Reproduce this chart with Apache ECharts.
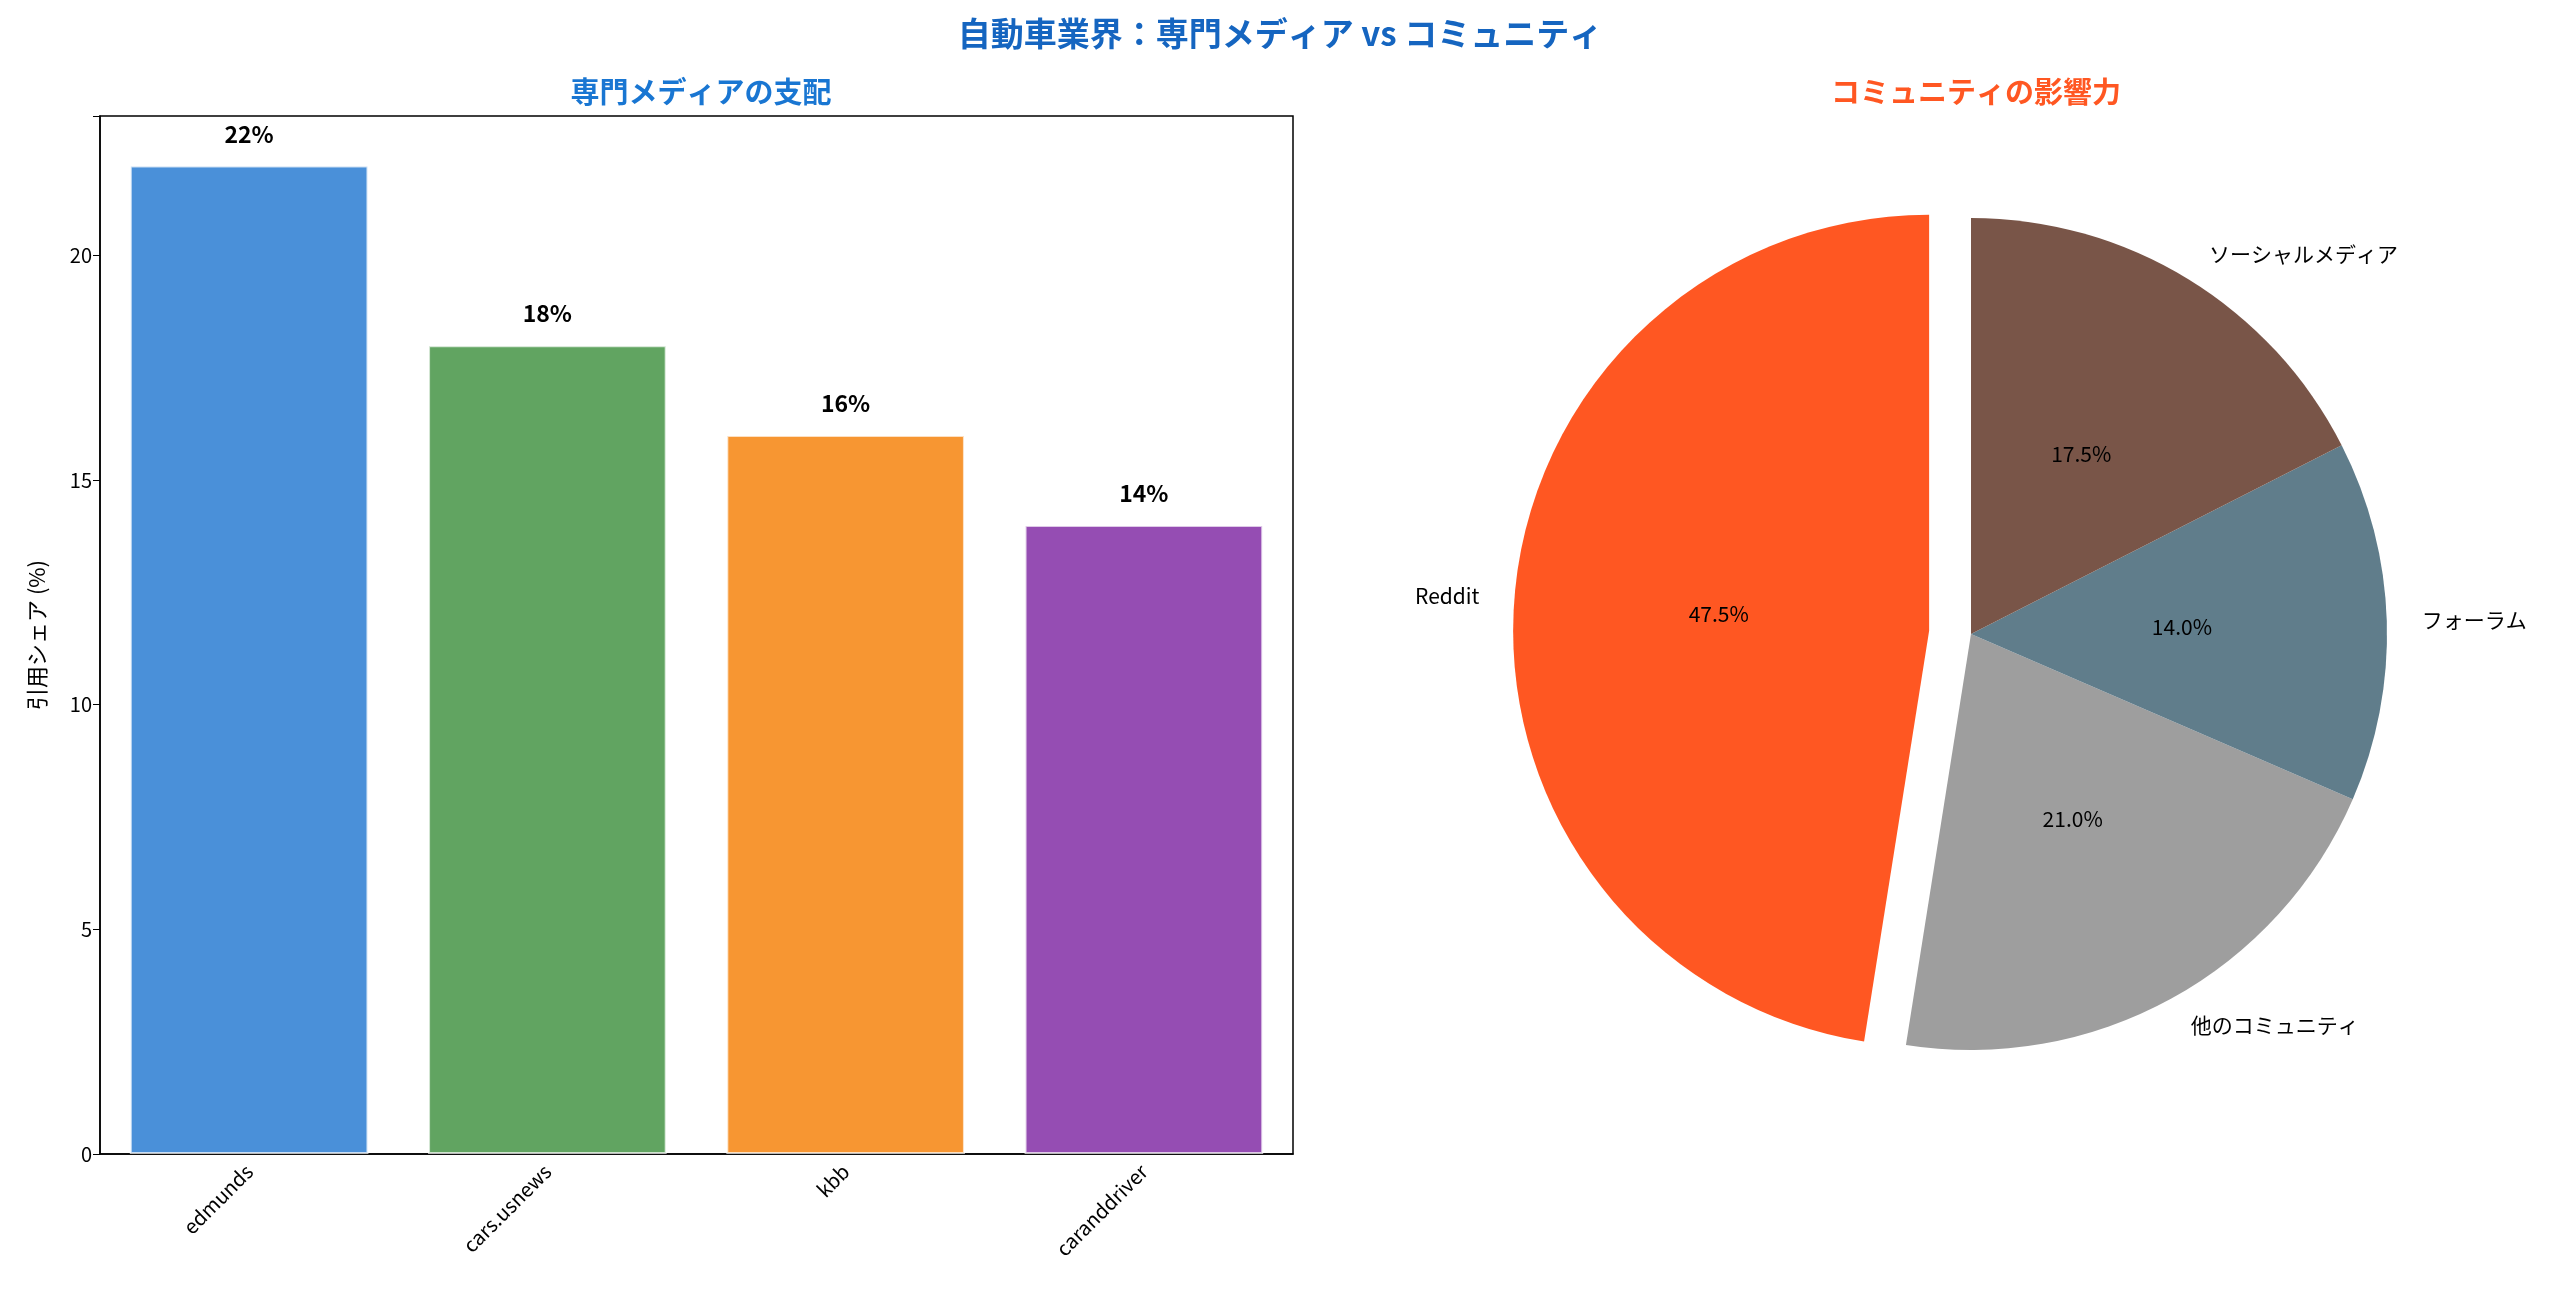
<!DOCTYPE html>
<html>
<head>
<meta charset="utf-8">
<script src="https://cdn.jsdelivr.net/npm/echarts@6/dist/echarts.min.js"></script>
<style>html,body{margin:0;background:#fff}#c{width:2560px;height:1311px}</style>
</head>
<body>
<div id="c"></div>
<script>
// 棒グラフのデータ
const sites = ['edmunds', 'cars.usnews', 'kbb', 'caranddriver'];
const shares = [22, 18, 16, 14];
const barColors = ['#4a90d9', '#61a461', '#f79632', '#954db3'];
const yTicks = [0, 5, 10, 15, 20];

// 円グラフのデータ
const communities = ['Reddit', '他のコミュニティ', 'フォーラム', 'ソーシャルメディア'];
const communityShares = [47.5, 21.0, 14.0, 17.5];
const pieColors = ['#ff5722', '#9e9e9e', '#607d8b', '#795548'];

const font = '"Noto Sans CJK JP", "Noto Sans", sans-serif';
const chart = echarts.init(document.getElementById('c'));

const pieData = communities.map((n, i) => ({
  name: n, value: communityShares[i], selected: i === 0,
  itemStyle: { color: pieColors[i] }
}));
const pieCommon = {
  type: 'pie', center: [1971, 634], radius: 416, startAngle: 90, clockwise: false,
  selectedMode: 'multiple', selectedOffset: 42, silent: true, animation: false
};

chart.setOption({
  textStyle: { fontFamily: font },
  title: [
    { text: '自動車業界：専門メディア vs コミュニティ', left: 'center', top: 12,
      textStyle: { fontSize: 33, fontWeight: 'bold', color: '#1565c0', fontFamily: font } },
    { text: '専門メディアの支配', left: 696, top: 72, textAlign: 'center',
      textStyle: { fontSize: 29, fontWeight: 'bold', color: '#1976d2', fontFamily: font } },
    { text: 'コミュニティの影響力', left: 1971, top: 72, textAlign: 'center',
      textStyle: { fontSize: 29, fontWeight: 'bold', color: '#ff5722', fontFamily: font } }
  ],
  grid: { left: 100, right: 1267, top: 116, bottom: 157, show: true, borderColor: '#000', borderWidth: 1.5 },
  xAxis: {
    type: 'category', data: sites,
    axisLine: { lineStyle: { color: '#000', width: 1.5 } },
    axisTick: { alignWithLabel: true, length: 7, lineStyle: { color: '#000' } },
    axisLabel: { rotate: 45, fontSize: 20, color: '#000', margin: 14 }
  },
  yAxis: {
    type: 'value', min: 0, max: 23.1, interval: 5,
    name: '引用シェア (%)', nameLocation: 'middle', nameGap: 52,
    nameTextStyle: { fontSize: 22, color: '#000' },
    splitLine: { show: false },
    axisLine: { show: true, lineStyle: { color: '#000', width: 1.5 } },
    axisTick: { show: true, length: 7, lineStyle: { color: '#000' } },
    axisLabel: { fontSize: 20, color: '#000',
      formatter: v => (yTicks.includes(v) ? String(v) : '') }
  },
  series: [
    {
      type: 'bar', barWidth: '80%', animation: false,
      data: shares.map((v, i) => ({ value: v, itemStyle: { color: barColors[i] } })),
      itemStyle: { borderColor: 'rgba(255,255,255,0.7)', borderWidth: 2 },
      label: { show: true, position: 'top', distance: 20, formatter: '{c}%',
        fontSize: 23, fontWeight: 'bold', color: '#000' }
    },
    Object.assign({}, pieCommon, {
      data: pieData,
      label: { show: true, position: 'outside', formatter: '{b}', fontSize: 21, color: '#000' },
      labelLine: { show: false, length: 30, length2: 0 }
    }),
    Object.assign({}, pieCommon, {
      data: pieData.map(d => Object.assign({}, d, { itemStyle: { color: 'transparent' } })),
      label: { show: true, position: 'inside', formatter: p => p.value.toFixed(1) + '%',
        fontSize: 21, color: '#000' },
      labelLine: { show: false }
    })
  ]
});
</script>
</body>
</html>
